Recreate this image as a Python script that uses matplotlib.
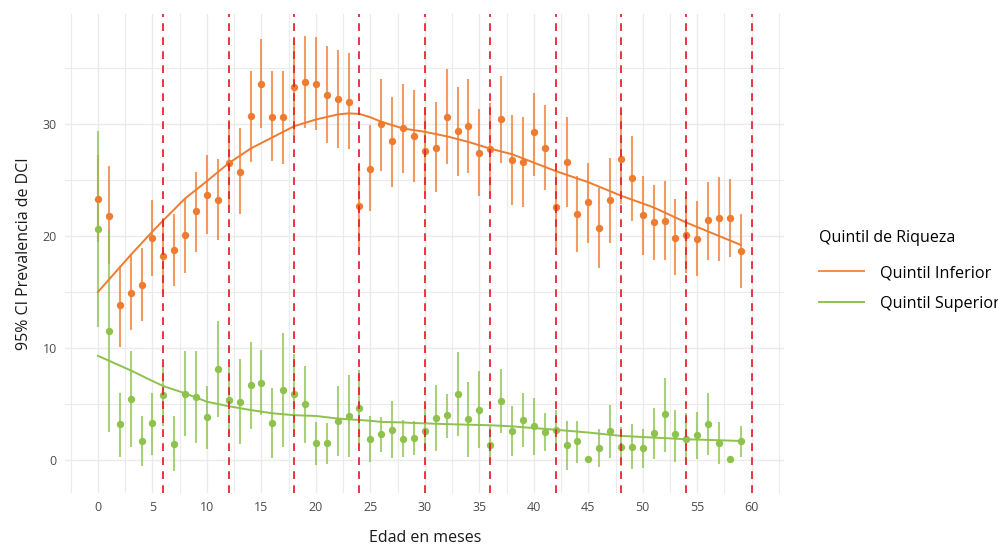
import matplotlib
matplotlib.use("Agg")
import matplotlib.pyplot as plt
from matplotlib.lines import Line2D
import numpy as np

plt.rcParams['font.family'] = ['Open Sans', 'DejaVu Sans']

months = list(range(60))

# Quintil Inferior (orange): estimate, lower, upper
inf_est = [23.3, 21.8, 13.8, 14.9, 15.6, 19.8, 18.2, 18.75, 20.1, 22.2,
           23.7, 23.2, 26.5, 25.7, 30.7, 33.6, 30.65, 30.6, 33.3, 33.75,
           33.6, 32.6, 32.2, 32.0, 22.7, 26.0, 30.0, 28.45, 29.6, 28.9,
           27.6, 27.9, 30.65, 29.4, 29.85, 27.4, 27.8, 30.45, 26.8, 26.6,
           29.3, 27.9, 22.55, 26.6, 22.0, 23.0, 20.7, 23.2, 26.9, 25.15,
           21.85, 21.25, 21.3, 19.8, 20.1, 19.75, 21.4, 21.6, 21.6, 18.7]
inf_lo = [19.5, 17.5, 10.1, 11.6, 12.4, 16.4, 14.8, 15.5, 16.7, 18.6,
          20.2, 19.6, 22.6, 22.0, 26.6, 29.6, 26.7, 26.4, 29.0, 29.6,
          29.5, 28.3, 27.9, 27.8, 18.96, 22.2, 25.8, 24.4, 25.6, 24.85,
          23.8, 23.9, 26.4, 25.4, 25.65, 23.6, 23.7, 26.5, 22.8, 22.6,
          25.4, 24.1, 19.05, 22.6, 18.6, 19.4, 17.1, 19.4, 22.9, 21.3,
          18.3, 17.9, 17.9, 16.5, 16.7, 16.4, 17.9, 17.8, 18.1, 15.4]
inf_hi = [27.2, 26.25, 17.3, 18.3, 18.9, 23.2, 21.6, 22.0, 23.4, 25.7,
          27.2, 26.9, 30.4, 29.6, 34.7, 37.6, 34.7, 34.7, 37.4, 37.9,
          37.8, 36.96, 36.6, 36.3, 26.3, 29.9, 34.0, 32.4, 33.6, 33.0,
          31.5, 32.0, 34.9, 33.3, 34.0, 31.3, 31.9, 34.3, 30.8, 30.6,
          32.8, 31.7, 26.4, 30.6, 25.4, 26.55, 24.3, 27.0, 30.95, 28.9,
          25.4, 24.55, 24.9, 23.3, 23.5, 23.1, 24.85, 25.3, 25.05, 22.0]

# Quintil Superior (green): estimate, lower, upper
sup_est = [20.6, 11.5, 3.2, 5.45, 1.65, 3.3, 5.8, 1.4, 5.9, 5.65,
           3.8, 8.1, 5.35, 5.2, 6.7, 6.9, 3.3, 6.25, 5.9, 4.97,
           1.55, 1.5, 3.5, 3.9, 4.6, 1.9, 2.3, 2.7, 1.9, 2.0,
           2.55, 3.75, 4.0, 5.9, 3.65, 4.5, 1.3, 5.3, 2.6, 3.6,
           3.0, 2.5, 2.7, 1.3, 1.65, 0.1, 1.1, 2.6, 1.2, 1.2,
           1.1, 2.45, 4.1, 2.3, 1.85, 2.2, 3.2, 1.55, 0.06, 1.7]
sup_lo = [11.9, 2.5, 0.3, 1.2, -0.5, 0.45, 3.0, -1.0, 2.1, 1.55,
          0.95, 3.8, 2.2, 1.4, 2.8, 4.0, 0.15, 1.2, 2.2, 1.5,
          -0.45, -0.4, 0.36, 0.3, 1.3, -0.2, 0.75, 0.15, 0.24, 0.45,
          0.9, 0.8, 2.0, 2.1, 0.3, 1.1, -0.3, 2.4, 0.36, 1.2,
          0.4, 0.83, 1.0, -0.9, -0.3, 0.1, -0.65, 0.2, -0.5, -0.8,
          -0.75, 0.1, 0.75, -0.15, -0.4, 0.1, 0.4, -0.36, 0.06, 0.3]
sup_hi = [29.4, 20.5, 6.0, 9.7, 3.9, 6.0, 8.5, 3.9, 9.7, 9.7,
          6.6, 12.4, 8.3, 9.0, 10.5, 9.8, 6.4, 11.3, 9.5, 8.4,
          3.4, 3.3, 6.6, 7.6, 8.0, 3.9, 3.8, 5.3, 3.6, 3.5,
          4.8, 6.7, 5.9, 9.6, 7.0, 7.9, 3.0, 8.1, 4.8, 6.0,
          5.5, 4.2, 4.5, 3.5, 3.5, 0.1, 2.8, 4.9, 2.9, 3.2,
          2.8, 4.6, 7.3, 4.5, 4.2, 4.3, 6.0, 3.4, 0.06, 3.0]

# Smoothed trend lines
smooth_x = [0, 3, 5, 6, 8, 10, 12, 14, 16, 18, 20, 22, 23, 24, 25, 26, 28,
            29, 30, 32, 34, 36, 38, 42, 45, 48, 51, 54, 59]
inf_smooth = [15.0, 18.3, 20.4, 21.4, 23.35, 24.9, 26.5, 27.8, 28.8, 29.8,
              30.4, 30.85, 30.95, 30.9, 30.6, 30.2, 29.6, 29.45, 29.3, 28.9,
              28.4, 27.8, 27.3, 25.8, 24.8, 23.6, 22.55, 21.2, 19.2]
sup_smooth = [9.3, 8.0, 7.05, 6.6, 5.95, 5.2, 4.8, 4.46, 4.17, 4.0,
              3.93, 3.7, 3.63, 3.57, 3.5, 3.4, 3.35, 3.3, 3.27, 3.2,
              3.15, 3.1, 3.0, 2.7, 2.45, 2.15, 2.0, 1.85, 1.7]

vlines = [6, 12, 18, 24, 30, 36, 42, 48, 54, 60]
x_ticks = list(range(0, 61, 5))
y_ticks = [0, 10, 20, 30]

series_names = ['Quintil Inferior', 'Quintil Superior']
legend_title = 'Quintil de Riqueza'
x_label = 'Edad en meses'
y_label = '95% CI Prevalencia de DCI'

c_inf = '#EE7B30'
c_sup = '#8DC24C'

fig = plt.figure(figsize=(9.98, 5.47), dpi=100)
ax = fig.add_axes([0.0654, 0.0987, 0.7206, 0.8763])

ax.set_xlim(-3, 63)
ax.set_ylim(-2.95, 39.85)

# grid
for v in np.arange(-2.5, 63, 2.5):
    ax.axvline(v, color='#EBEBEB', lw=0.8 if v % 5 else 1.0, zorder=0)
for v in np.arange(-0, 40, 5):
    ax.axhline(v, color='#EBEBEB', lw=0.8 if v % 10 else 1.0, zorder=0)

m = np.array(months)
for est, lo, hi, col in [(inf_est, inf_lo, inf_hi, c_inf),
                         (sup_est, sup_lo, sup_hi, c_sup)]:
    ax.vlines(m, lo, hi, colors=col, lw=1.5, alpha=0.75, zorder=2)
    ax.scatter(m, est, s=28, color=col, zorder=3, linewidths=0)

ax.plot(smooth_x, inf_smooth, color=c_inf, lw=1.4, zorder=4)
ax.plot(smooth_x, sup_smooth, color=c_sup, lw=1.4, zorder=4)

for v in vlines:
    ax.axvline(v, color='#E8202E', lw=1.4, ls=(0, (4, 3.2)), alpha=0.9, zorder=5)

for s in ax.spines.values():
    s.set_visible(False)
ax.set_xticks(x_ticks)
ax.set_yticks(y_ticks)
ax.tick_params(length=0, labelsize=9, labelcolor='#4D4D4D', pad=6)
ax.set_xlabel(x_label, fontsize=11.5, color='#1A1A1A', labelpad=11)
ax.set_ylabel(y_label, fontsize=11.5, color='#1A1A1A', labelpad=8)

handles = [Line2D([], [], color=c_inf, lw=1.4, alpha=0.85),
           Line2D([], [], color=c_sup, lw=1.4)]
leg = fig.legend(handles, series_names, title=legend_title,
                 loc='upper left', bbox_to_anchor=(0.806, 0.607),
                 frameon=False, fontsize=11.7, title_fontsize=11.5,
                 handlelength=2.75, handletextpad=1.0, labelspacing=0.92)
leg._legend_box.align = 'left'
leg._legend_box.sep = 14

fig.savefig('out.png', dpi=100)
